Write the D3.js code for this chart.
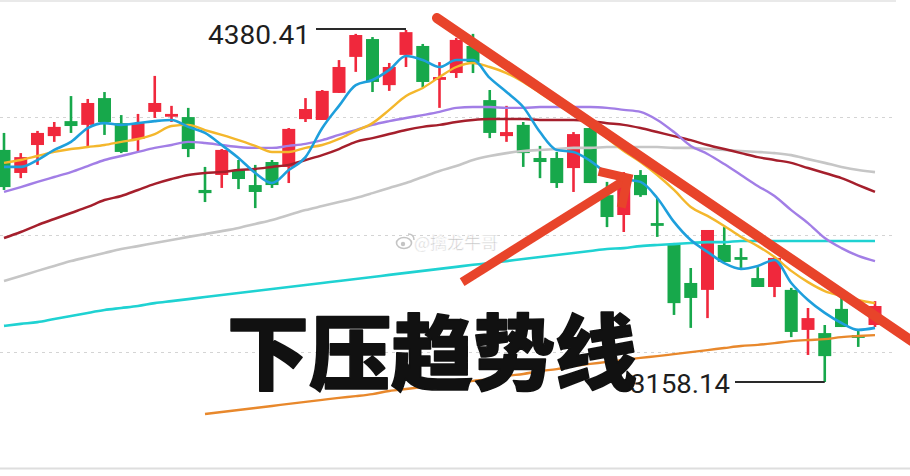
<!DOCTYPE html>
<html><head><meta charset="utf-8">
<script src="https://cdn.jsdelivr.net/npm/d3@7"></script>
<style>html,body{margin:0;padding:0;background:#fff;} svg{display:block;}</style>
</head><body>
<svg id="chart" width="910" height="476"></svg>
<script>
// ---- data ----
const opens  = [3964,3884,3981,4012,4064,4051,4144,4057,4002,4096,4082,4078,3825,3877,3894,3842,3922,3905,4071,4068,4162,4287,4349,4189,4294,4325,4210,4231,4325,4137,4012,4051,3936,3936,3901,4040,3807,3738,3877,3710,3634,3502,3478,3634,3592,3519,3488,3478,3339,3328,3412,3321,3356];
const closes = [3835,3939,4023,4044,4047,4127,4061,3957,4057,4127,4089,3967,3814,3964,3863,3818,3842,4037,4106,4169,4252,4363,4200,4252,4373,4200,4217,4346,4269,4023,4026,3953,3922,3849,4019,3849,3731,3870,3807,3703,3432,3450,3686,3575,3585,3488,3589,3332,3380,3248,3349,3314,3422];
const highs  = [4023,3953,4030,4061,4151,4141,4165,4085,4089,4221,4117,4110,3905,3967,3929,3912,3929,4040,4144,4172,4276,4367,4356,4266,4380.41,4332,4269,4353,4367,4172,4117,4061,3978,3957,4026,4044,3853,3887,3894,3797,3641,3554,3686,3696,3623,3557,3592,3485,3415,3356,3453,3339,3439];
const lows   = [3825,3866,3912,3992,4023,3974,4016,3953,3960,4075,4061,3939,3783,3832,3828,3762,3832,3849,4061,4068,4162,4235,4165,4169,4252,4182,4110,4214,4231,4005,3992,3905,3866,3832,3818,3849,3696,3679,3801,3662,3391,3346,3380,3575,3554,3488,3453,3314,3252,3158.14,3349,3280,3349];

const ma5   = [3905,3905,3929,3964,3992,4040,4057,4051,4057,4064,4068,4044,4023,3981,3936,3884,3849,3894,3939,4040,4117,4189,4207,4242,4290,4276,4252,4276,4276,4214,4165,4113,4026,3964,3957,3926,3884,3863,3853,3797,3714,3651,3610,3571,3551,3561,3582,3502,3443,3398,3363,3339,3346];
const ma10  = [3919,3929,3943,3957,3967,3974,3981,3992,4002,4019,4047,4051,4033,4016,3998,3978,3957,3957,3971,3981,4002,4030,4057,4103,4151,4179,4217,4252,4266,4252,4231,4200,4162,4123,4089,4054,4005,3960,3922,3877,3825,3766,3735,3700,3662,3630,3592,3544,3505,3474,3457,3443,3432];
const ma20  = [3818,3835,3853,3870,3887,3908,3929,3943,3957,3971,3981,3992,3988,3981,3974,3971,3971,3978,3985,3998,4016,4033,4051,4064,4075,4085,4096,4110,4113,4113,4110,4110,4113,4113,4113,4113,4110,4103,4096,4068,4026,3978,3950,3915,3877,3839,3804,3755,3710,3658,3623,3596,3578];
const ma30  = [3658,3679,3703,3724,3745,3766,3790,3804,3825,3846,3863,3877,3884,3887,3894,3898,3905,3912,3929,3946,3967,3992,4005,4019,4033,4044,4051,4061,4068,4071,4071,4071,4068,4068,4068,4064,4057,4051,4040,4026,4012,3998,3981,3967,3953,3939,3929,3919,3901,3884,3866,3842,3818];
const ma60  = [3509,3526,3544,3561,3578,3592,3606,3620,3630,3641,3651,3662,3672,3682,3693,3707,3721,3738,3755,3769,3783,3797,3814,3832,3849,3870,3891,3908,3929,3943,3953,3960,3964,3967,3971,3971,3974,3974,3974,3974,3971,3971,3967,3964,3960,3957,3953,3946,3932,3919,3905,3894,3887];
const ma120 = [3353,3360,3366,3377,3387,3398,3408,3415,3422,3432,3439,3446,3453,3460,3467,3474,3481,3488,3495,3502,3509,3516,3523,3530,3537,3544,3551,3558,3565,3571,3578,3585,3592,3599,3606,3613,3620,3623,3630,3634,3637,3641,3644,3644,3648,3648,3648,3648,3648,3648,3648,3648,3648];
const ma250 = [null,null,null,null,null,null,null,null,null,null,null,null,3047,3054,3061,3068,3075,3082,3089,3096,3103,3109,3116,3127,3134,3141,3148,3155,3162,3168,3179,3186,3196,3203,3214,3221,3228,3235,3242,3248,3255,3262,3269,3276,3283,3287,3293,3300,3304,3307,3314,3318,3321];

const gridPrices = [4078, 3670, 3262];
const highValue = 4380.41, highIndex = 24, highLabel = "4380.41";
const lowValue = 3158.14, lowIndex = 49, lowLabel = "3158.14";
const trendLine = [[25.85, 4422], [54.2, 3300]];
const arrowLine = [[27.35, 3505], [37.25, 3866]];
const title = "下压趋势线";
const watermark = "@擒龙牛哥";

// ---- drawing ----
const W = 910, H = 476;
const svg = d3.select("#chart");
const x = d3.scaleLinear().domain([0, opens.length - 1]).range([4, 875]);
const y = d3.scaleLinear().domain([4484.6, 2859.5]).range([0, 468]);

// frame lines
svg.append("line").attr("x1", 0).attr("x2", 896).attr("y1", 1).attr("y2", 1)
  .attr("stroke", "#e2e2e2").attr("stroke-width", 1.5);
svg.append("line").attr("x1", 0).attr("x2", W).attr("y1", 468.5).attr("y2", 468.5)
  .attr("stroke", "#dedede").attr("stroke-width", 2);

// grid
svg.append("g").selectAll("line").data(gridPrices).join("line")
  .attr("x1", 0).attr("x2", 896)
  .attr("y1", d => Math.round(y(d)) + 0.5).attr("y2", d => Math.round(y(d)) + 0.5)
  .attr("stroke", "#d4d4d4").attr("stroke-width", 1).attr("stroke-dasharray", "3,4");

// watermark
const wm = svg.append("g").attr("transform", "translate(397,242)");
wm.append("ellipse").attr("cx", 7).attr("cy", 1).attr("rx", 7.5).attr("ry", 5.5)
  .attr("fill", "none").attr("stroke", "#c4c4c4").attr("stroke-width", 1.6);
wm.append("circle").attr("cx", 6).attr("cy", 2).attr("r", 2.2).attr("fill", "#c4c4c4");
wm.append("path").attr("d", "M11,-8 Q17,-8 17,-2").attr("fill", "none").attr("stroke", "#c4c4c4").attr("stroke-width", 1.5);
svg.append("text").attr("x", 414).attr("y", 249).text(watermark)
  .attr("font-family", "'Noto Sans CJK SC', sans-serif").attr("font-size", 17)
  .attr("fill", "#c2c2c2").attr("stroke", "#ffffff").attr("stroke-width", 0.6);

// candles
const up = "#f0283c", down = "#17a84b";
const cg = svg.append("g");
opens.forEach((o, i) => {
  const c = closes[i];
  const col = c >= o ? up : down;
  cg.append("line").attr("x1", x(i)).attr("x2", x(i))
    .attr("y1", y(highs[i])).attr("y2", y(lows[i]))
    .attr("stroke", col).attr("stroke-width", 2.6);
  const top = Math.min(y(o), y(c));
  const h = Math.max(2.8, Math.abs(y(o) - y(c)));
  cg.append("rect").attr("x", x(i) - 6.5).attr("width", 13)
    .attr("y", top).attr("height", h).attr("fill", col);
});

// moving averages
const maList = [
  [ma250, "#e8882c", 2.4],
  [ma120, "#1fd2d2", 2.6],
  [ma60,  "#c6c6c6", 2.6],
  [ma30,  "#a51f2c", 2.5],
  [ma20,  "#a27ee6", 2.4],
  [ma10,  "#f4b72c", 2.4],
  [ma5,   "#1e9fdc", 2.6]
];
const line = d3.line().defined(d => d != null)
  .x((d, i) => x(i)).y(d => y(d)).curve(d3.curveMonotoneX);
maList.forEach(([arr, col, w]) => {
  svg.append("path").attr("d", line(arr)).attr("fill", "none")
    .attr("stroke", col).attr("stroke-width", w).attr("stroke-linejoin", "round");
});

// high / low annotations
const hx = x(highIndex), hy = y(highValue);
svg.append("line").attr("x1", 316).attr("x2", hx).attr("y1", hy - 1).attr("y2", hy - 1)
  .attr("stroke", "#2a2a2a").attr("stroke-width", 2);
svg.append("text").attr("x", 208).attr("y", 44).text(highLabel)
  .attr("font-family", "Roboto, sans-serif").attr("font-size", 25).attr("fill", "#1e1e1e")
  .attr("textLength", 102).attr("lengthAdjust", "spacingAndGlyphs");
const lx = x(lowIndex), ly = y(lowValue);
svg.append("line").attr("x1", 735).attr("x2", lx).attr("y1", ly).attr("y2", ly)
  .attr("stroke", "#2a2a2a").attr("stroke-width", 2);
svg.append("text").attr("x", 630).attr("y", 393).text(lowLabel)
  .attr("font-family", "Roboto, sans-serif").attr("font-size", 25).attr("fill", "#1e1e1e")
  .attr("textLength", 100).attr("lengthAdjust", "spacingAndGlyphs");

// trend line
const red = "#e8442a";
svg.append("line")
  .attr("x1", x(trendLine[0][0])).attr("y1", y(trendLine[0][1]))
  .attr("x2", x(trendLine[1][0])).attr("y2", y(trendLine[1][1]))
  .attr("stroke", red).attr("stroke-width", 10).attr("stroke-linecap", "round");

// arrow
const ax0 = x(arrowLine[0][0]), ay0 = y(arrowLine[0][1]);
const ax1 = x(arrowLine[1][0]), ay1 = y(arrowLine[1][1]);
const ang = Math.atan2(ay1 - ay0, ax1 - ax0);
const armLen = 30, spread = Math.PI * 0.25;
const a1 = ang + Math.PI - spread, a2 = ang + Math.PI + spread;
svg.append("line").attr("x1", ax0).attr("y1", ay0).attr("x2", ax1 - 3 * Math.cos(ang)).attr("y2", ay1 - 3 * Math.sin(ang))
  .attr("stroke", red).attr("stroke-width", 9);
svg.append("path")
  .attr("d", `M${ax1 + armLen * Math.cos(a1)},${ay1 + armLen * Math.sin(a1)} L${ax1},${ay1} L${ax1 + armLen * Math.cos(a2)},${ay1 + armLen * Math.sin(a2)}`)
  .attr("fill", "none").attr("stroke", red).attr("stroke-width", 9).attr("stroke-linejoin", "miter");

// big title
svg.append("text").attr("x", 227).attr("y", 383).text(title)
  .attr("font-family", "'Noto Sans CJK SC', sans-serif").attr("font-weight", 900)
  .attr("font-size", 82).attr("fill", "#111")
  .attr("stroke", "#111").attr("stroke-width", 1.6).attr("stroke-linejoin", "round");
</script>
</body></html>
